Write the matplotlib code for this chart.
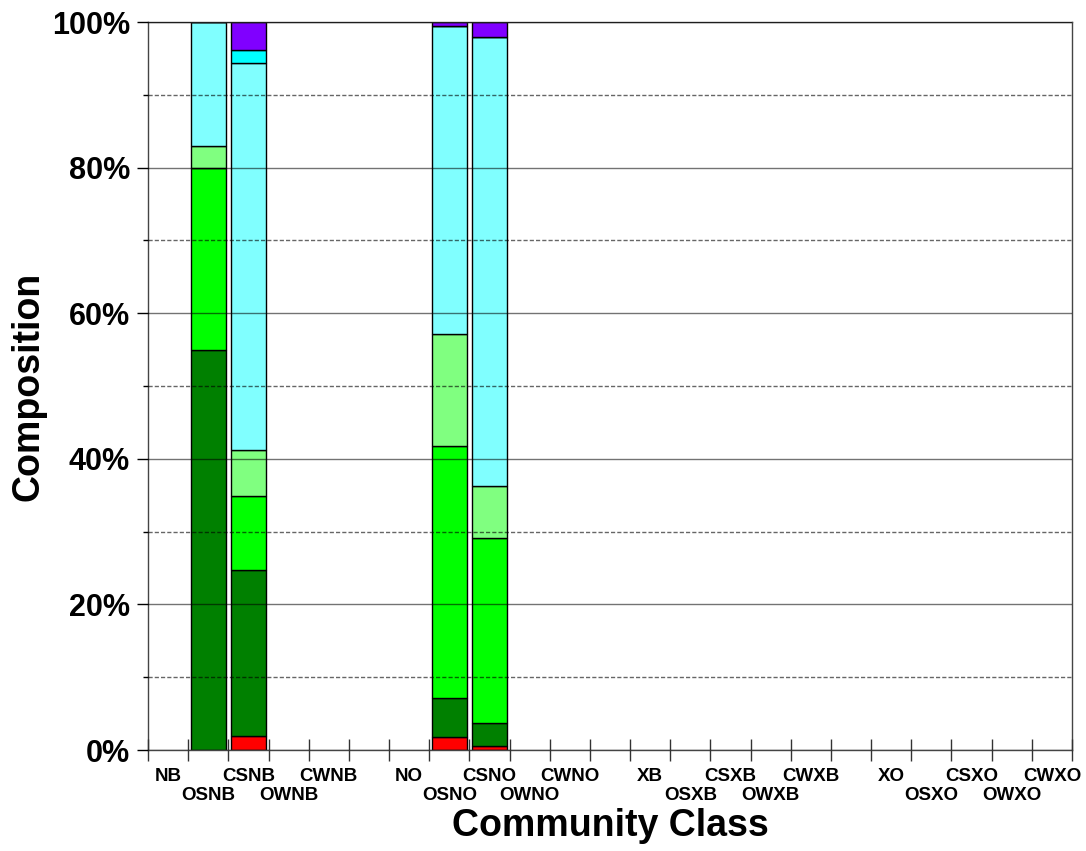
import matplotlib
matplotlib.use('Agg')
import matplotlib.pyplot as plt
import numpy as np
from matplotlib.ticker import MultipleLocator, FuncFormatter

# community classes along the x axis ('' = empty gap slot)
classes = ['NB', 'OSNB', 'CSNB', 'OWNB', 'CWNB', '',
           'NO', 'OSNO', 'CSNO', 'OWNO', 'CWNO', '',
           'XB', 'OSXB', 'CSXB', 'OWXB', 'CWXB', '',
           'XO', 'OSXO', 'CSXO', 'OWXO', 'CWXO']

# classes that have a bar, and the composition (%) of each layer, bottom to top
bar_classes = ['OSNB', 'CSNB', 'OSNO', 'CSNO']
red      = [0.0, 1.9, 1.8, 0.55]
dkgreen  = [54.9, 22.8, 5.3, 3.15]
green    = [25.0, 10.2, 34.6, 25.4]
ltgreen  = [3.1, 6.3, 15.4, 7.2]
ltcyan   = [17.0, 53.2, 42.3, 61.7]
cyan     = [0.0, 1.8, 0.0, 0.0]
purple   = [0.0, 3.8, 0.6, 2.0]

layers = [red, dkgreen, green, ltgreen, ltcyan, cyan, purple]
colors = ['#ff0000', '#008000', '#00ff00', '#80ff80', '#80ffff', '#00ffff', '#8000ff']

plt.rcParams['font.family'] = ['Liberation Sans', 'DejaVu Sans']
plt.rcParams['font.weight'] = 'bold'

fig = plt.figure(figsize=(10.86, 8.51), dpi=100)
ax = fig.add_axes([148/1086, 1-750/851, (1072-148)/1086, (750-22)/851])

xpos = np.array([classes.index(c) for c in bar_classes])
bottom = np.zeros(len(bar_classes))
for vals, col in zip(layers, colors):
    ax.bar(xpos, vals, width=0.87, bottom=bottom, color=col,
           edgecolor='black', linewidth=1, zorder=1)
    bottom += np.array(vals)

ax.set_xlim(-0.5, len(classes) - 0.5)
ax.set_ylim(0, 100)

# boundary ticks (major) and labels at slot centres (minor)
ax.set_xticks(np.arange(-0.5, len(classes), 1.0))
ax.set_xticklabels([])
centres = [i for i, c in enumerate(classes) if c]
labs = [classes[i] if i % 2 == 0 else '\n' + classes[i] for i in centres]
ax.set_xticks(centres, minor=True)
ax.set_xticklabels(labs, minor=True, fontsize=13.5, fontweight='bold')
for t in ax.get_xticklabels(minor=True):
    t.set_linespacing(1.17)
ax.tick_params(axis='x', which='major', direction='inout', length=16.5, width=1, color='#333333')
ax.tick_params(axis='x', which='minor', length=0, pad=13)

ax.yaxis.set_major_locator(MultipleLocator(20))
ax.yaxis.set_minor_locator(MultipleLocator(10))
ax.yaxis.set_major_formatter(FuncFormatter(lambda v, p: '%d%%' % v))
ax.tick_params(axis='y', which='major', direction='out', length=8, width=1, labelsize=22, pad=5)
ax.tick_params(axis='y', which='minor', direction='out', length=3.6, width=1)
for t in ax.get_yticklabels():
    t.set_fontweight('bold')

ax.set_axisbelow(False)
ax.yaxis.grid(True, which='major', color='black', alpha=0.55, linewidth=1, linestyle='-')
ax.yaxis.grid(True, which='minor', color='black', alpha=0.6, linewidth=1, linestyle=(0, (3, 1.5)))

for s in ax.spines.values():
    s.set_color('#444444')
    s.set_linewidth(1)

ax.set_xlabel('Community Class', fontsize=27, fontweight='bold', va='top')
ax.xaxis.set_label_coords(0.5, -0.08)
ax.set_ylabel('Composition', fontsize=27, fontweight='bold', labelpad=4)

plt.savefig('out.png', dpi=100)
